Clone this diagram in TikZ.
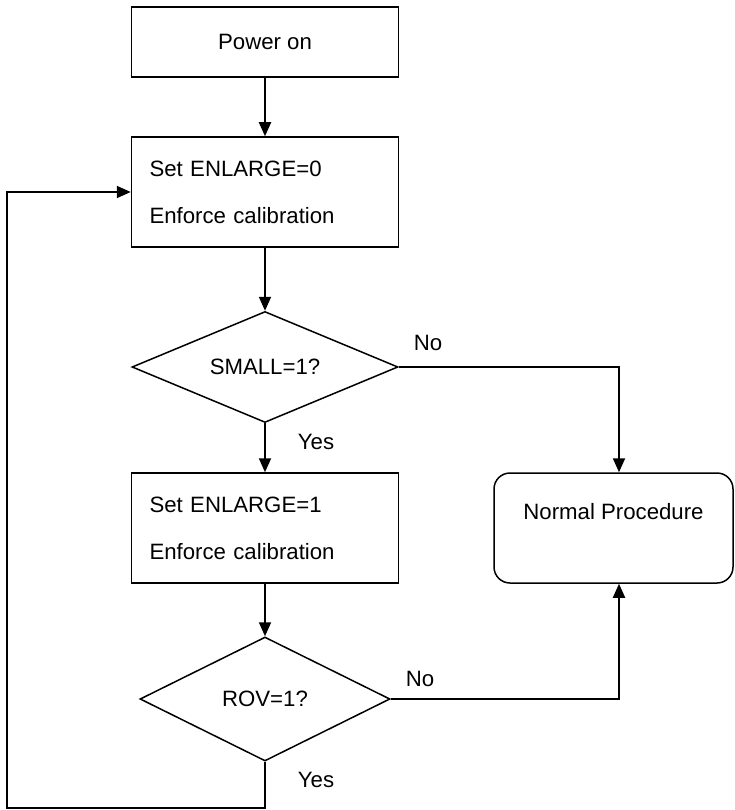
\documentclass[tikz,border=0pt]{standalone}
\usepackage{fontspec}
\setmainfont{Liberation Sans}
\usetikzlibrary{shapes.geometric,arrows.meta,calc}
\begin{document}
\begin{tikzpicture}[x=1pt,y=-1pt,
  every node/.style={font=\fontsize{22.2}{47}\selectfont},
  box/.style={draw,line width=1.5pt,rectangle,minimum width=267pt,minimum height=#1,inner sep=0pt},
  twoline/.style={align=left,text width=231pt},
  dec/.style={draw,line width=1.5pt,diamond,aspect=2.4,inner sep=0pt},
  conn/.style={line width=2pt,-{Triangle[length=14pt,width=12pt]}},
  lbl/.style={inner sep=0pt}]
\useasboundingbox (0,0) rectangle (734,810);
\node[box=70pt] (p) at (265,42) {Power on};
\node[box=110pt,twoline] (s0) at (265,192) {Set ENLARGE=0\\Enforce calibration};
\node[dec,minimum width=266pt,minimum height=111pt] (d1) at (265,367) {SMALL=1?};
\node[box=110pt,twoline] (s1) at (265,528) {Set ENLARGE=1\\Enforce calibration};
\node[dec,minimum width=250pt,minimum height=124pt] (d2) at (265,699) {ROV=1?};
\node[draw,line width=1.5pt,rounded corners=16pt,minimum width=239pt,minimum height=110pt,inner sep=0pt,
  label={[yshift=16pt]center:Normal Procedure}] (np) at (613.5,528) {};
\coordinate (c1) at (619,367);
\coordinate (c2) at (619,699);
\coordinate (b) at (265,808);
\coordinate (l) at (7,808);
\coordinate (t) at (7,192);
\draw[conn] (p) -- (s0);
\draw[conn] (s0) -- (d1);
\draw[conn] (d1) -- (s1);
\draw[conn] (s1) -- (d2);
\draw[conn] (d1.east) -- (c1) -- (c1 |- np.north);
\draw[conn] (d2.east) -- (c2) -- (c2 |- np.south);
\draw[conn] (d2.south) -- (b) -- (l) -- (t) -- (s0.west);
\node[lbl] (no1) at (428,343) {No};
\node[lbl] (yes1) at (316,442) {Yes};
\node[lbl] (no2) at (420,679) {No};
\node[lbl] (yes2) at (316,780) {Yes};
\end{tikzpicture}
\end{document}
